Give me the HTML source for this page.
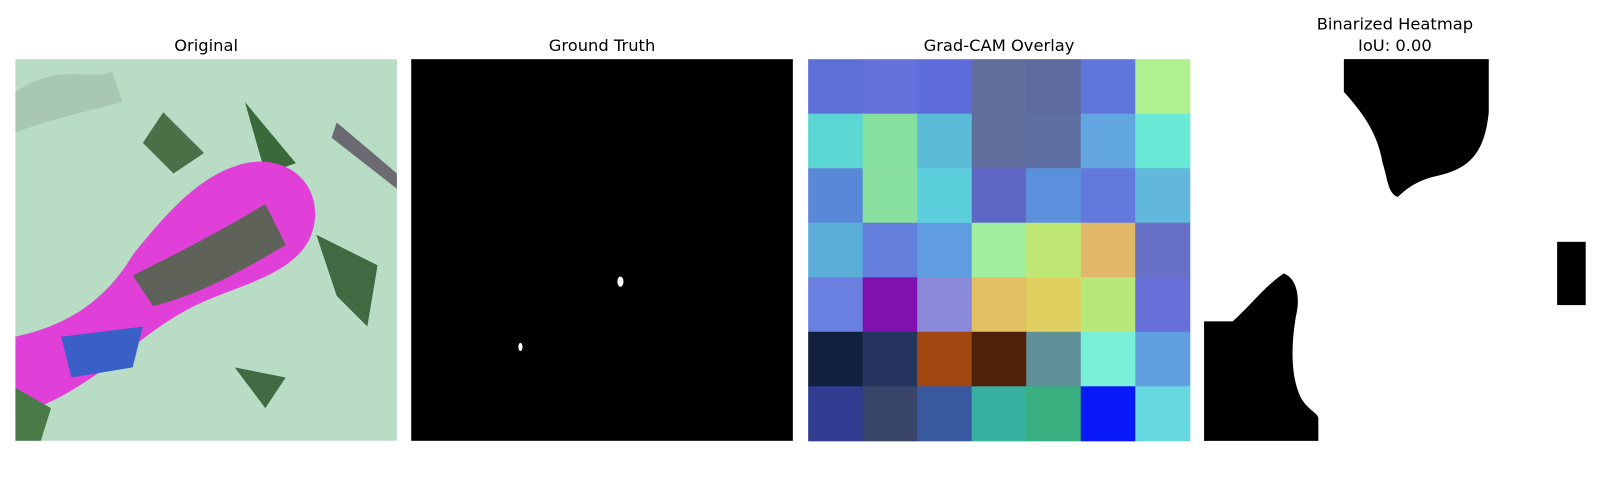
<!DOCTYPE html>
<html><head><meta charset="utf-8"><style>
body{margin:0;background:#fff;width:1600px;height:500px;overflow:hidden;font-family:"DejaVu Sans","Liberation Sans",sans-serif}
svg text{font-family:"DejaVu Sans","Liberation Sans",sans-serif;font-size:16px;fill:#000}
</style></head><body>
<svg id="fig" width="1600" height="500">
<g transform="scale(1.0204)">
<text x="202" y="50" text-anchor="middle">Original</text>
<text x="590" y="50" text-anchor="middle">Ground Truth</text>
<text x="979" y="50" text-anchor="middle">Grad-CAM Overlay</text>
<text x="1367" y="29" text-anchor="middle">Binarized Heatmap</text>
<text x="1367" y="50" text-anchor="middle">IoU: 0.00</text>
<g>
<defs><clipPath id="c1"><rect x="15" y="58" width="374" height="374"/></clipPath></defs>
<g clip-path="url(#c1)">
<rect x="15" y="58" width="374" height="374" fill="#b8dcc4"/>
<path d="M15,90 C60,60 90,80 110,70 L120,100 C80,110 40,120 15,130Z" fill="#a8c8b4"/>
<path d="M240,100 L290,160 L260,170 Z" fill="#3a6a3a"/>
<path d="M330,120 L389,170 L389,185 L325,135Z" fill="#6a6a70"/>
<path d="M15,330 C60,320 100,300 130,250 C170,200 200,170 240,160 C290,150 320,190 305,230 C290,270 230,280 190,300 C150,320 120,350 90,370 C60,390 40,400 15,405Z" fill="#e040d8"/>
<path d="M130,270 C170,250 210,230 260,200 L280,240 C230,270 190,290 150,300Z" fill="#3e6a3a" opacity="0.8"/>
<path d="M60,330 L140,320 L130,360 L70,370Z" fill="#3a60c8"/>
<path d="M310,230 L370,260 L360,320 L330,290Z" fill="#3f6a42"/>
<path d="M160,110 L200,150 L170,170 L140,140Z" fill="#4a7048"/>
<path d="M15,380 L50,400 L40,432 L15,432Z" fill="#4a7a48"/>
<path d="M230,360 L280,370 L260,400Z" fill="#3f6a42"/>
</g></g>
<g>
<rect x="403" y="58" width="374" height="374" fill="#000"/>
<ellipse cx="608" cy="276" rx="3" ry="5" fill="#fff"/>
<ellipse cx="510" cy="340" rx="2" ry="4" fill="#fff"/>
</g>
<g id="cam"></g>
<g>
<rect x="1180" y="58" width="374" height="374" fill="#fff"/>
<path d="M1317,58 L1459,58 L1459,110 C1455,150 1440,165 1410,172 C1390,176 1378,185 1370,193 C1360,190 1360,175 1355,160 C1350,130 1335,110 1317,90Z" fill="#000"/>
<path d="M1180,315 L1208,315 C1225,300 1240,280 1258,268 C1270,272 1275,290 1270,310 C1265,340 1265,370 1275,390 C1282,402 1292,405 1292,410 L1292,432 L1180,432Z" fill="#000"/>
<rect x="1526" y="237" width="28" height="62" fill="#000"/>
</g>
</g>
</svg>
<script>
const camRows = [
 ["#5f6fd8","#6470dc","#5f6ddc","#5f6e9d","#5d6a9e","#6176dc","#b0f090"],
 ["#5ad7d2","#85e0a0","#5bbcd8","#5f6e9d","#5f6ea0","#62a6e0","#68ead7"],
 ["#5a88d8","#88e0a0","#5ccfdc","#5f68c4","#5a90dc","#6479dc","#62b8dc"],
 ["#5aaed8","#6480dc","#5f9ce0","#a0f0a0","#c0e874","#e0b868","#6670c4"],
 ["#6a80e0","#8010b0","#8a88d8","#e0c060","#e0d060","#b8e878","#6670d8"],
 ["#12203f","#263460","#a04810","#502008","#609098","#78f0d8","#60a0e0"],
 ["#303c90","#384468","#3858a0","#38b0a0","#38b080","#0818f8","#68d8e0"]
];
const g=document.getElementById('cam');
const x0=792,y0=58,size=374,n=camRows.length,cs=size/n;
camRows.forEach((row,r)=>row.forEach((c,k)=>{
 const el=document.createElementNS('http://www.w3.org/2000/svg','rect');
 el.setAttribute('x',x0+k*cs);el.setAttribute('y',y0+r*cs);
 el.setAttribute('width',cs+0.5);el.setAttribute('height',cs+0.5);
 el.setAttribute('fill',c);
 
 
 g.appendChild(el);
}));
</script>
</body></html>
